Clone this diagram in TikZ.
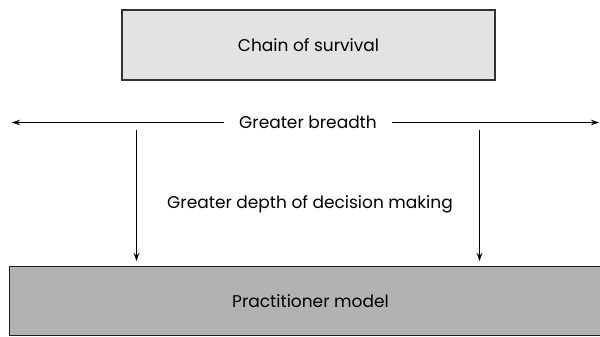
\documentclass[tikz,border=0pt]{standalone}
\usepackage{fontspec}
\setmainfont{Poppins}
\usetikzlibrary{arrows.meta}
\begin{document}
\begin{tikzpicture}[x=1pt,y=-1pt,
  txt/.style={font=\fontsize{17}{20}\selectfont},
  boxtop/.style={txt,draw=black!80,line width=1.4pt,fill=black!11,minimum width=373pt,minimum height=70pt,inner sep=0pt},
  boxbot/.style={txt,draw=black!90,line width=1.4pt,fill=black!30,minimum width=602pt,minimum height=69pt,inner sep=0pt},
  lbl/.style={txt,inner sep=0pt},
  arr/.style={line width=0.9pt,-{Stealth[length=8pt,width=5.5pt]}}]
\useasboundingbox (0,0) rectangle (600,337);
\node[boxtop] (chain) at (308.5,45) {Chain of survival};
\node[boxbot] (pract) at (310.5,301.2) {Practitioner model};
\node[lbl,inner xsep=15pt] (breadth) at (308,122.5) {Greater breadth};
\node[lbl] (depth) at (310,204) {Greater depth of decision making};
\coordinate (ltip) at (12,122.5);
\coordinate (rtip) at (599,122.5);
\coordinate (la) at (136.5,130);
\coordinate (lb) at (136.5,261);
\coordinate (ra) at (479.5,130);
\coordinate (rb) at (479.5,261);
\draw[arr] (breadth.west) -- (ltip);
\draw[arr] (breadth.east) -- (rtip);
\draw[arr] (la) -- (lb);
\draw[arr] (ra) -- (rb);
\end{tikzpicture}
\end{document}
